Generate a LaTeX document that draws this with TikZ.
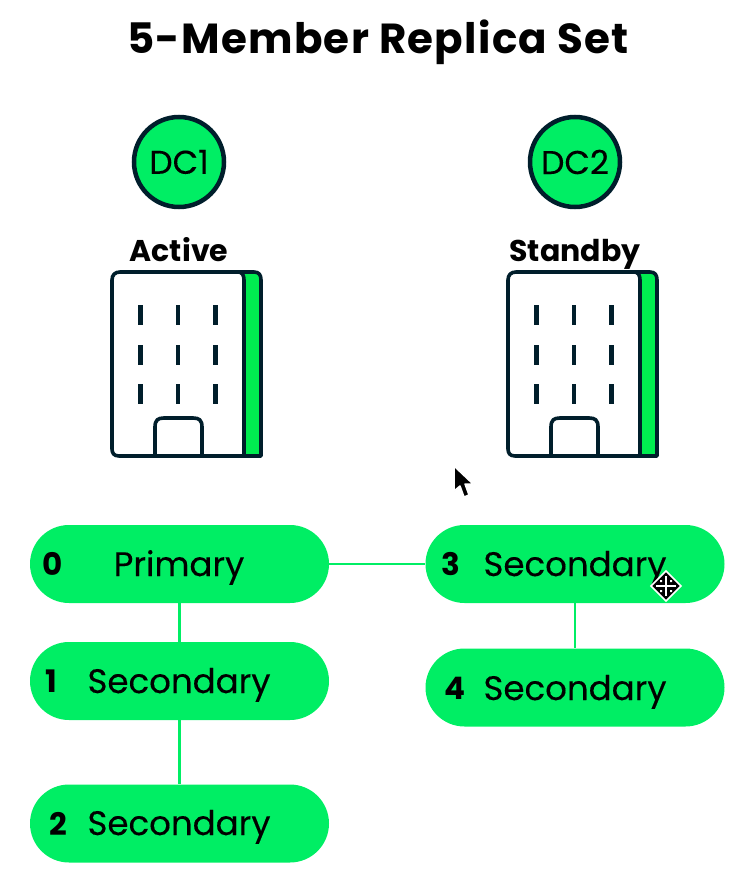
\documentclass[tikz,border=0pt]{standalone}
\usepackage{fontspec}
\setmainfont{Poppins}
\definecolor{lgreen}{HTML}{00EE64}
\definecolor{bgreen}{HTML}{00ED50}
\definecolor{navy}{HTML}{001E2B}
\tikzset{
  pill/.style={draw=none,fill=lgreen,rounded corners=39pt,minimum width=299pt,minimum height=78pt,inner sep=0pt},
  link/.style={draw=lgreen,line width=2.1pt},
  lbl/.style={font=\fontsize{34}{36}\selectfont\addfontfeature{FakeBold=0.25},text=black,inner sep=0pt,anchor=base},
  num/.style={font=\fontsize{31}{33}\selectfont\bfseries,text=black,inner sep=0pt,anchor=base},
  dcnode/.style={circle,draw=navy,line width=4.5pt,fill=lgreen,minimum size=90pt,inner sep=0pt,font=\fontsize{33}{36}\selectfont\addfontfeature{FakeBold=0.25},text=black},
  head/.style={font=\fontsize{30}{32}\selectfont\bfseries,text=black,inner sep=0pt,anchor=base},
  wall/.style={draw=navy,line width=3.6pt,line join=round},
  win/.style={draw=navy,line width=4.6pt}
}
\newcommand{\building}[1]{%
  \begin{scope}[xshift=#1 pt]
    \fill[white] (119,272) -- (252,272) .. controls (258,272) and (261,274) .. (261,279) -- (261,456) -- (118,456) .. controls (114,456) and (112,453) .. (112,450) -- (112,279) .. controls (112,275) and (115,272) .. (119,272) -- cycle;
    \fill[bgreen] (244,273) -- (254,273) .. controls (258,273) and (261,275) .. (261,279) -- (261,456) -- (244,456) -- cycle;
    \draw[wall] (261,456) -- (119,456) .. controls (114,456) and (112,453) .. (112,449) -- (112,280) .. controls (112,275) and (115,272) .. (120,272) -- (254,272) .. controls (259,272) and (261,275) .. (261,280) -- cycle;
    \draw[wall] (238,272) .. controls (242,272) and (244,275) .. (244,280) -- (244,456);
    \draw[wall] (155,456) -- (155,427) .. controls (155,420) and (158,418) .. (164,418) -- (193,418) .. controls (199,418) and (202,420) .. (202,427) -- (202,456);
    \foreach \wx in {140.5,178,215.5}
      \foreach \wy in {305,345,384}
        \draw[win] (\wx,\wy) -- (\wx,\wy+20);
  \end{scope}}
\begin{document}
\begin{tikzpicture}[x=1pt,y=-1pt]
\useasboundingbox (0,0) rectangle (742,888);
\node[font=\fontsize{42}{46}\selectfont\bfseries\addfontfeature{LetterSpace=3},text=black,inner sep=0pt,anchor=base] (title) at (378,54) {5-Member Replica Set};
\node[dcnode] (dc1) at (179,162) {DC1};
\node[dcnode] (dc2) at (575,162) {DC2};
\node[head] (active) at (179,261) {Active};
\node[head] (standby) at (575,261) {Standby};
\building{0}
\building{396}
\node[pill] (p0) at (179.5,564) {};
\node[pill] (p1) at (179.5,681) {};
\node[pill] (p2) at (179.5,823.5) {};
\node[pill] (p3) at (575,564) {};
\node[pill] (p4) at (575,687.5) {};
\draw[link] (p0) -- (p3);
\draw[link] (p0) -- (p1);
\draw[link] (p1) -- (p2);
\draw[link] (p3) -- (p4);
\node[lbl] (t0) at (179,576) {Primary};
\node[lbl] (t1) at (179,693) {Secondary};
\node[lbl] (t2) at (179,835) {Secondary};
\node[lbl] (t3) at (575,576) {Secondary};
\node[lbl] (t4) at (575,700) {Secondary};
\node[num] (n0) at (53,575) {0};
\node[num] (n1) at (51,692) {1};
\node[num] (n2) at (58,835) {2};
\node[num] (n3) at (451,575) {3};
\node[num] (n4) at (455,699) {4};
% arrow cursor
\draw[white,line width=1.5pt,fill=black,line join=round] (454,466) -- (454,491) -- (460,486) -- (464,497) -- (469,495) -- (465,484) -- (473,484) -- cycle;
% move cursor
\draw[white,line width=1.5pt,fill=black] (666,571) -- (681,586) -- (666,601) -- (651,586) -- cycle;
\draw[white,line width=1.8pt] (666,576) -- (666,596) (656,586) -- (676,586);
\fill[white] (660,580) rectangle (662,582) (670,580) rectangle (672,582) (660,590) rectangle (662,592) (670,590) rectangle (672,592);
\end{tikzpicture}
\end{document}
